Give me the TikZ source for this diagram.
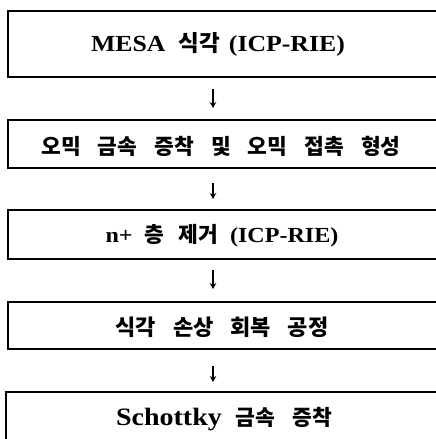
\documentclass[tikz,border=0pt]{standalone}
\usepackage{fontspec}
\setmainfont{Liberation Serif}[FakeStretch=1.12]
\newfontfamily\kr{Noto Sans CJK KR}
\usetikzlibrary{arrows.meta}
\newcommand\kgap{\hspace{17pt}}
\newcommand\ksz[1]{\fontsize{#1}{#1}\selectfont}
\begin{document}
\begin{tikzpicture}[x=1pt,y=-1pt,
  stepbox/.style={draw=black, line width=2pt, rectangle, inner sep=0pt, anchor=north west, minimum width=445pt},
  lbl/.style={anchor=center, inner sep=0pt, text=black},
  arr/.style={-{Stealth[length=6pt,width=6.5pt]}, line width=1.3pt}]
\useasboundingbox (0,0) rectangle (436,439);
\clip (0,0) rectangle (436,439);
\fill[white] (0,0) rectangle (436,439);
% boxes
\node[stepbox, minimum height=66pt] (b1) at (7,10) {};
\node[stepbox, minimum height=48pt] (b2) at (7,119) {};
\node[stepbox, minimum height=49pt] (b3) at (7,209) {};
\node[stepbox, minimum height=47pt] (b4) at (7,301) {};
\node[stepbox, minimum height=70pt] (b5) at (5,391) {};
% labels
\node[lbl] (t1) at (218,44) {\ksz{23}\bfseries MESA\hspace{13pt}{\kr\ksz{22.5}식각}\hspace{9pt}(ICP-RIE)};
\node[lbl] (t2) at (221,146) {\kr\ksz{21.5}\bfseries 오믹\kgap 금속\kgap 증착\kgap 및\kgap 오믹\kgap 접촉\kgap 형성};
\node[lbl] (t3) at (222,236) {\ksz{21.5}\bfseries n+\hspace{12pt}{\kr\ksz{21.5}층\hspace{14pt}제거}\hspace{12pt}(ICP-RIE)};
\node[lbl] (t4) at (222,327) {\kr\ksz{22}\bfseries 식각\kgap 손상\kgap 회복\kgap 공정};
\node[lbl] (t5) at (224,419) {\ksz{25}\bfseries Schottky\hspace{14pt}{\kr\ksz{21.5}금속\kgap 증착}};
% arrows
\coordinate (ax) at (213,0);
\draw[arr, shorten <=11pt, shorten >=11pt] (b1.south -| ax) -- (b2.north -| ax);
\draw[arr, shorten <=14pt, shorten >=10pt] (b2.south -| ax) -- (b3.north -| ax);
\draw[arr, shorten <=10pt, shorten >=12pt] (b3.south -| ax) -- (b4.north -| ax);
\draw[arr, shorten <=16pt, shorten >=9pt] (b4.south -| ax) -- (b5.north -| ax);
\end{tikzpicture}
\end{document}
